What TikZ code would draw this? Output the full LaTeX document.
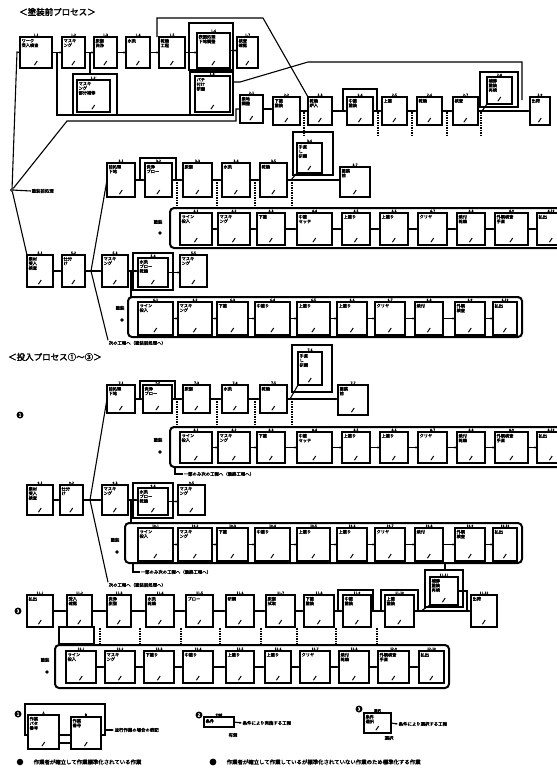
\documentclass[tikz,border=0pt]{standalone}
\usepackage{fontspec}
\newfontfamily\jpb{Noto Sans CJK JP}[FakeBold=2.5]
\usetikzlibrary{shadows,arrows.meta}
\tikzset{
 pb/.style={draw,line width=1.2pt,fill=white,anchor=north west,inner sep=0pt,outer sep=0pt,
   drop shadow={shadow xshift=1.4pt,shadow yshift=-1.4pt,fill=black,opacity=1}},
 btxt/.style={anchor=north west,inner sep=0pt,align=left,font=\jpb\fontsize{4.2}{4.6}\selectfont},
 tagtxt/.style={anchor=south,inner sep=0.2pt,font=\jpb\fontsize{3.4}{3.4}\selectfont},
 slash/.style={line width=1pt},
 conn/.style={line width=1.1pt},
 arr/.style={line width=1.1pt,-{Latex[length=2.4pt,width=2.4pt]}},
 bigframe/.style={line width=2pt,rounded corners=4pt},
 vdash/.style={line width=1.6pt,dash pattern=on 1.5pt off 1pt},
 numdot/.style={circle,fill=black,inner sep=0pt,minimum size=7pt,text=white,font=\jpb\fontsize{4.5}{4.5}\selectfont},
 smalldot/.style={circle,fill=black,inner sep=0pt,minimum size=3.8pt},
 lbl/.style={inner sep=0.5pt,font=\jpb\fontsize{4.4}{4.7}\selectfont},
 foot/.style={inner sep=0.5pt,anchor=west,font=\jpb\fontsize{5.4}{5.6}\selectfont},
 head/.style={anchor=west,inner sep=0pt,font=\jpb\fontsize{8.5}{9}\selectfont},
 jn/.style={circle,draw,line width=0.9pt,fill=white,inner sep=0pt,minimum size=3.2pt}
}
\newcommand{\PB}[7]{%
  \node[pb,minimum width=#4pt,minimum height=#5pt] (#1) at (#2,#3) {};
  \node[btxt] (#1-t) at ([xshift=1.4pt,yshift=-1.7pt]#1.north west) {#7};
  \node[tagtxt] (#1-g) at ([yshift=0.4pt]#1.north) {#6};
  \draw[slash] ([xshift=-1.6pt,yshift=2.8pt]#1.south) -- ([xshift=1.2pt,yshift=7pt]#1.south);
}
\newcommand{\Chain}[1]{\foreach \a/\b in {#1} {\draw[arr] (\a.east) -- (\a.east -| \b.west);}}
\begin{document}
\begin{tikzpicture}[x=1pt,y=-1pt]
\useasboundingbox (0,0) rectangle (557,769);
\clip (0,0) rectangle (557,769);
\fill[white] (0,0) rectangle (557,769);

% ================= Section 1 =================
\node[head] (h1) at (19,12) {＜塗装前プロセス＞};

% frames row A
\draw[conn] (189,23) rectangle (233,70);
\draw[conn] (190,72) rectangle (233,115);
\draw[conn] (73,74) rectangle (117,115);
% row A
\PB{A1}{20}{37}{32}{31}{1-1}{ワーク\\受入検査}
\PB{A2}{62}{37}{23}{31}{1-2}{マスキ\\ング}
\PB{A3}{94}{37}{23}{31}{1-3}{脱脂\\洗浄}
\PB{A4}{126}{37}{24}{31}{1-4}{水洗}
\PB{A5}{159}{37}{26}{31}{1-5}{乾燥\\工程}
\PB{A6}{197}{33}{33}{35}{1-6}{表面処理\\下地調整}
\PB{A7}{237}{37}{21}{31}{1-7}{検査\\確認}
\PB{A2s}{77}{80}{33}{32}{1-2'}{マスキ\\ング\\部分補修}
\PB{A6s}{195}{76}{35}{36}{1-6'}{パテ\\付け\\研磨}
\Chain{A1/A2,A2/A3,A3/A4,A4/A5,A5/A6,A6/A7}
\coordinate (ja1) at (57,52);
\coordinate (ja2) at (90,52);
\draw[conn] (ja1) -- (57,115) -- (190,115);
\draw[conn] (ja2) -- (90,74);
\draw[conn] (157,37) -- (157,18) -- (263,18) -- (308,97);
\draw[conn] (233,82) -- (240,82) -- (308,62) -- (522,62) -- (522,100);

% row B
\draw[conn] (343,111) |- (377,89) -- (377,111);
\draw[conn] (480,72) rectangle (518,107);
\PB{B1}{240}{95}{23}{28}{2-1}{素地\\調整}
\PB{B2}{273}{97}{27}{28}{2-2}{下塗\\塗装}
\PB{B3}{308}{97}{24}{28}{2-3}{乾燥\\炉入}
\PB{B4}{347}{97}{26}{28}{2-4}{中塗\\塗装}
\PB{B5}{382}{97}{25}{28}{2-5}{上塗}
\PB{B6}{417}{97}{25}{28}{2-6}{乾燥}
\PB{B7}{453}{97}{25}{28}{2-7}{検査}
\PB{Bf}{487}{77}{25}{27}{2-8}{補修\\塗装\\再検}
\PB{B8}{530}{97}{20}{28}{2-9}{出荷}
\Chain{B1/B2,B2/B3,B3/B4,B4/B5,B5/B6,B6/B7,B7/B8}
\draw[conn] (482,111) -- (Bf.south west);
\foreach \x in {304,378,412,447,481} \draw[vdash] (\x,112) -- (\x,135);

% start node
\node[jn] (st) at (12,190) {};
\node[lbl,anchor=west] (stl) at (31,191) {塗装前処理};
\draw[conn] (st) -- (stl.west);
\draw[conn] (st) -- (17,52) -- (A1.west);
\draw[conn] (st) -- (67,121) -| (236,109) -- (B1.west);

% row C
\draw[conn] (140,180) |- (176,158) -- (176,180);
\draw[conn] (293,132) rectangle (333,175);
\PB{C1}{107}{163}{28}{34}{3-1}{前処理\\下地}
\PB{C2}{145}{163}{27}{34}{3-2}{洗浄\\ブロー}
\PB{C3}{183}{163}{29}{34}{3-3}{脱脂}
\PB{C4}{222}{163}{28}{34}{3-4}{水洗}
\PB{C5}{260}{163}{27}{34}{3-5}{乾燥}
\PB{Cf}{297}{143}{25}{30}{3-6}{手直\\し\\研磨}
\PB{C6}{340}{167}{30}{30}{3-7}{塗装\\前}
\Chain{C1/C2,C2/C3,C3/C4,C4/C5,C5/C6}
\draw[conn] (291,180) -- (Cf.south west);
\foreach \x in {177,217,255,292} \draw[vdash] (\x,182) -- (\x,208);

% row C'
\draw[bigframe] (170,208) rectangle (590,248);
\PB{Ca}{180}{213}{32}{32}{4-1}{ライン\\投入}
\PB{Cb}{218}{213}{32}{32}{4-2}{マスキ\\ング}
\PB{Cc}{257}{213}{28}{32}{4-3}{下塗}
\PB{Cd}{297}{213}{35}{32}{4-4}{中塗\\セッテ}
\PB{Ce}{342}{213}{28}{32}{4-5}{上塗り}
\PB{Cg}{380}{213}{28}{32}{4-6}{上塗り}
\PB{Ch}{418}{213}{29}{32}{4-7}{クリヤ}
\PB{Ci}{457}{213}{28}{32}{4-8}{焼付\\乾燥}
\PB{Cj}{495}{213}{33}{32}{4-9}{外観検査\\手直}
\PB{Ck}{537}{213}{28}{32}{4-10}{払出}
\Chain{Ca/Cb,Cb/Cc,Cc/Cd,Cd/Ce,Ce/Cg,Cg/Ch,Ch/Ci,Ci/Cj,Cj/Ck}
\node[lbl] (cpl) at (158,222) {塗装};
\node[smalldot] (cpd) at (160,233) {};

% row D
\draw[conn] (133,253) rectangle (173,290);
\PB{D1}{27}{255}{26}{32}{5-1}{素材\\受入\\検査}
\PB{D2}{62}{255}{23}{32}{5-2}{仕分\\け}
\PB{D3}{102}{255}{26}{32}{5-3}{マスキ\\ング}
\PB{D4}{138}{258}{30}{29}{5-4}{水洗\\ブロー\\乾燥}
\PB{D5}{180}{255}{27}{32}{5-5}{マスキ\\ング}
\coordinate (J1) at (91,271);
\draw[conn] (st) -- (D1.north west);
\draw[arr] (D1.east) -- (D1.east -| D2.west);
\draw[conn] (D2.east) -- (J1);
\draw[arr] (J1) -- (J1 -| D3.west);
\Chain{D3/D4,D4/D5}
\draw[conn] (J1) -- (C1.west);
\node[lbl,anchor=west] (L1) at (108,343) {次の工程へ（塗装前処理へ）};
\draw[conn] (J1) -- (L1.north west);
\draw[conn] (131,271) -- (131,297);

% row D'
\draw[bigframe] (128,297) rectangle (522,337);
\PB{Da}{138}{302}{35}{33}{6-1}{ライン\\投入}
\PB{Db}{178}{302}{34}{33}{6-2}{マスキ\\ング}
\PB{Dc}{217}{302}{31}{33}{6-3}{下塗}
\PB{Dd}{255}{302}{35}{33}{6-4}{中塗り}
\PB{De}{297}{302}{33}{33}{6-5}{上塗り}
\PB{Dg}{337}{302}{30}{33}{6-6}{上塗り}
\PB{Dh}{375}{302}{30}{33}{6-7}{クリヤ}
\PB{Di}{415}{302}{28}{33}{6-8}{焼付}
\PB{Dj}{455}{302}{30}{33}{6-9}{外観\\検査}
\PB{Dk}{493}{302}{24}{33}{6-10}{払出}
\Chain{Da/Db,Db/Dc,Dc/Dd,Dd/De,De/Dg,Dg/Dh,Dh/Di,Di/Dj,Dj/Dk}
\node[lbl] (dpl) at (120,308) {塗装};
\node[smalldot] (dpd) at (122,320) {};

% ================= Section 2 =================
\node[head] (h2) at (8,357) {＜投入プロセス①〜③＞};
\node[numdot] (n1) at (20,415) {1};

% row F
\draw[conn] (140,399) |- (175,381) -- (175,399);
\draw[conn] (292,345) rectangle (332,392);
\PB{F1}{107}{385}{28}{28}{7-1}{前処理\\下地}
\PB{F2}{143}{385}{29}{28}{7-2}{洗浄\\ブロー}
\PB{F3}{183}{385}{27}{28}{7-3}{脱脂}
\PB{F4}{222}{385}{26}{28}{7-4}{水洗}
\PB{F5}{260}{385}{27}{28}{7-5}{乾燥}
\PB{Ff}{298}{352}{24}{33}{7-6}{手直\\し\\研磨}
\PB{F6}{338}{385}{30}{30}{7-7}{塗装\\前}
\Chain{F1/F2,F2/F3,F3/F4,F4/F5,F5/F6}
\draw[conn] (290,399) -- (Ff.south west);
\foreach \x in {177,217,255,292} \draw[vdash] (\x,401) -- (\x,427);

% row F'
\draw[bigframe] (170,427) rectangle (590,467);
\PB{Fa}{180}{432}{32}{31}{8-1}{ライン\\投入}
\PB{Fb}{218}{432}{32}{31}{8-2}{マスキ\\ング}
\PB{Fc}{257}{432}{28}{31}{8-3}{下塗}
\PB{Fd}{297}{432}{35}{31}{8-4}{中塗\\セッテ}
\PB{Fe}{342}{432}{28}{31}{8-5}{上塗り}
\PB{Fg}{380}{432}{28}{31}{8-6}{上塗り}
\PB{Fh}{418}{432}{29}{31}{8-7}{クリヤ}
\PB{Fi}{457}{432}{28}{31}{8-8}{焼付\\乾燥}
\PB{Fj}{495}{432}{33}{31}{8-9}{外観検査\\手直}
\PB{Fk}{537}{432}{28}{31}{8-10}{払出}
\Chain{Fa/Fb,Fb/Fc,Fc/Fd,Fd/Fe,Fe/Fg,Fg/Fh,Fh/Fi,Fi/Fj,Fj/Fk}
\node[lbl] (fpl) at (158,440) {塗装};
\node[smalldot] (fpd) at (160,452) {};
\node[lbl,anchor=west] (L2) at (183,474) {一部のみ次の工程へ（最終工程へ）};
\draw[conn] (175,467) |- (L2.west);

% row G
\draw[conn] (133,483) rectangle (173,518);
\PB{G1}{27}{485}{26}{30}{9-1}{素材\\受入\\検査}
\PB{G2}{60}{485}{23}{30}{9-2}{仕分\\け}
\PB{G3}{102}{485}{26}{30}{9-3}{マスキ\\ング}
\PB{G4}{138}{488}{30}{27}{9-4}{水洗\\ブロー\\乾燥}
\PB{G5}{178}{485}{27}{30}{9-5}{マスキ\\ング}
\coordinate (J2) at (90,500);
\draw[arr] (G1.east) -- (G1.east -| G2.west);
\draw[conn] (G2.east) -- (J2);
\draw[arr] (J2) -- (J2 -| G3.west);
\Chain{G3/G4,G4/G5}
\draw[conn] (J2) -- (F1.west);
\node[lbl,anchor=west] (L3) at (108,585) {次の工程へ（塗装前処理へ）};
\draw[conn] (J2) -- (L3.north west);
\draw[conn] (131,500) -- (131,523);

% row G'
\draw[bigframe] (125,523) rectangle (522,563);
\PB{Ga}{138}{528}{35}{33}{10-1}{ライン\\投入}
\PB{Gb}{178}{528}{34}{33}{10-2}{マスキ\\ング}
\PB{Gc}{217}{528}{31}{33}{10-3}{下塗}
\PB{Gd}{255}{528}{35}{33}{10-4}{中塗り}
\PB{Ge}{297}{528}{33}{33}{10-5}{上塗り}
\PB{Gg}{337}{528}{30}{33}{10-6}{上塗り}
\PB{Gh}{375}{528}{30}{33}{10-7}{クリヤ}
\PB{Gi}{415}{528}{28}{33}{10-8}{焼付}
\PB{Gj}{455}{528}{30}{33}{10-9}{外観\\検査}
\PB{Gk}{493}{528}{24}{33}{10-10}{払出}
\Chain{Ga/Gb,Gb/Gc,Gc/Gd,Gd/Ge,Ge/Gg,Gg/Gh,Gh/Gi,Gi/Gj,Gj/Gk}
\node[lbl] (gpl) at (115,540) {塗装};
\node[smalldot] (gpd) at (117,552) {};
\node[lbl,anchor=west] (L4) at (140,572) {一部のみ次の工程へ（最終工程へ）};
\draw[conn] (133,563) |- (L4.west);

% ================= row H (3) =================
\node[numdot] (n3) at (18,611) {3};
\draw[conn] (338,611) |- (373,590) -- (373,611);
\draw[conn] (381,611) |- (418,590) -- (418,611);
\draw[conn] (425,570) rectangle (463,607);
\PB{H1}{27}{595}{26}{32}{11-1}{払出}
\PB{H2}{67}{595}{25}{32}{11-2}{受入\\確認}
\PB{H3}{107}{595}{24}{32}{11-3}{洗浄\\脱脂}
\PB{H4}{146}{595}{28}{32}{11-4}{水洗\\乾燥}
\PB{H5}{186}{595}{27}{32}{11-5}{ブロー}
\PB{H6}{226}{595}{28}{32}{11-6}{研磨}
\PB{H7}{266}{595}{29}{32}{11-7}{脱脂\\拭取}
\PB{H8}{304}{595}{30}{32}{11-8}{下塗\\塗装}
\PB{H9}{343}{595}{28}{32}{11-9}{中塗\\塗装}
\PB{H10}{385}{595}{29}{32}{11-10}{上塗\\塗装}
\PB{Hf}{430}{577}{28}{28}{11-11}{補修\\塗装\\再検}
\PB{H11}{471}{595}{26}{32}{11-12}{出荷}
\Chain{H1/H2,H2/H3,H3/H4,H4/H5,H5/H6,H6/H7,H7/H8,H8/H9,H9/H10,H10/H11}
\draw[conn] (421,611) -- (Hf.south west);
\draw[conn] (Hf.east) -| (467,611);
\draw[conn] (445,563) -- (445,570);
\draw[conn] (59,627) rectangle (94,644);
\foreach \x in {100,140,181,220,261,297,336,377} \draw[vdash] (\x,628) -- (\x,645);

% row H'
\draw[bigframe] (55,645) rectangle (449,688);
\PB{Ha}{66}{651}{30}{32}{12-1}{ライン\\投入}
\PB{Hb}{105}{651}{30}{32}{12-2}{マスキ\\ング}
\PB{Hc}{144}{651}{30}{32}{12-3}{下塗り}
\PB{Hd}{183}{651}{30}{32}{12-4}{中塗り}
\PB{He}{226}{651}{28}{32}{12-5}{上塗り}
\PB{Hg}{265}{651}{26}{32}{12-6}{上塗り}
\PB{Hh}{300}{651}{30}{32}{12-7}{クリヤ}
\PB{Hi}{339}{651}{30}{32}{12-8}{焼付\\乾燥}
\PB{Hj}{378}{651}{31}{32}{12-9}{外観検査\\手直}
\PB{Hk}{419}{651}{25}{32}{12-10}{払出}
\Chain{Ha/Hb,Hb/Hc,Hc/Hd,Hd/He,He/Hg,Hg/Hh,Hh/Hi,Hi/Hj,Hj/Hk}
\node[lbl] (hpl) at (45,660) {塗装};
\node[smalldot] (hpd) at (47,672) {};

% ================= legend =================
\node[numdot] (m1) at (18,714) {1};
\draw[conn] (25,704) rectangle (105,735);
\PB{LA}{28}{715}{31}{34}{A}{作業\\パタ\\番号}
\PB{LB}{71}{717}{30}{32}{B}{作業\\番号}
\draw[conn] (LA.south east) ++(0,-6) -- (71,743);
\node[lbl,anchor=west] (lt1) at (114,730) {並行作業の場合の表記};
\draw[arr] (105,730) -- (lt1.west);

\node[numdot] (m2) at (199,715) {2};
\node[pb,minimum width=30pt,minimum height=10pt] (LC) at (204,717) {};
\node[btxt] (LC-t) at ([xshift=1.5pt,yshift=-2pt]LC.north west) {条件};
\node[tagtxt] (LC-g) at (LC.north) {分岐};
\node[lbl,anchor=west] (lt2) at (242,723) {条件により実施する工程};
\draw[arr] (LC.east) -- (lt2.west);
\node[lbl] (lc2) at (233,735) {有無};

\node[numdot] (m3) at (359,709) {3};
\PB{LD}{364}{713}{27}{20}{選択}{条件\\選択}
\node[lbl,anchor=west] (lt3) at (398,724) {条件により選択する工程};
\draw[arr] (LD.east) -- (lt3.west);
\node[lbl] (ld2) at (389,738) {選択};

% ================= footer =================
\node[circle,fill=black,inner sep=0pt,minimum size=6.5pt] (f1) at (20,762) {};
\node[foot] (ft1) at (33,762) {作業者が確立して作業標準化されている作業};
\node[circle,draw,line width=1.2pt,fill=black,inner sep=0pt,minimum size=5.5pt] (f2) at (213,762) {};
\node[foot] (ft2) at (226,762) {作業者が確立して作業しているが標準化されていない作業のため標準化する作業};
\end{tikzpicture}
\end{document}
